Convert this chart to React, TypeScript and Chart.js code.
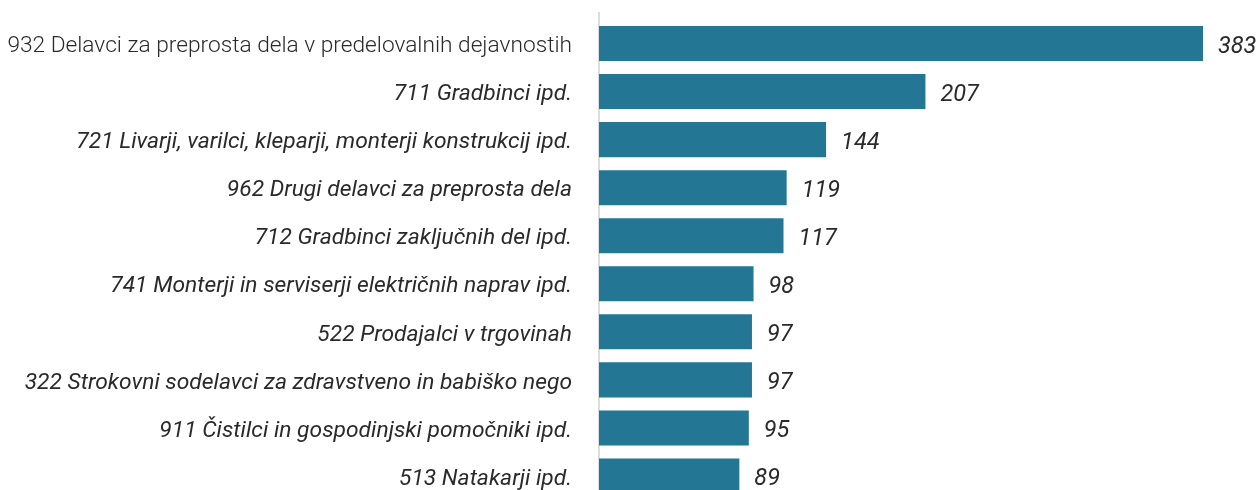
import React, { useEffect, useRef } from "react";
import { Chart, registerables } from "chart.js";

Chart.register(...registerables);

const categories: string[] = [
  "932 Delavci za preprosta dela v predelovalnih dejavnostih",
  "711 Gradbinci ipd.",
  "721 Livarji, varilci, kleparji, monterji konstrukcij ipd.",
  "962 Drugi delavci za preprosta dela",
  "712 Gradbinci zaključnih del ipd.",
  "741 Monterji in serviserji električnih naprav ipd.",
  "522 Prodajalci v trgovinah",
  "322 Strokovni sodelavci za zdravstveno in babiško nego",
  "911 Čistilci in gospodinjski pomočniki ipd.",
  "513 Natakarji ipd.",
];

const values: number[] = [383, 207, 144, 119, 117, 98, 97, 97, 95, 89];

const BAR_COLOR = "#247794";
const TEXT_COLOR = "#2a2a2a";
const FONT_FAMILY = "Roboto, 'Noto Sans', sans-serif";

const axisLinePlugin = {
  id: "axisLine",
  beforeDatasetsDraw(chart: any) {
    const { ctx, chartArea, scales } = chart;
    const x = scales.x.getPixelForValue(0);
    ctx.save();
    ctx.strokeStyle = "#d2d2d2";
    ctx.lineWidth = 1.5;
    ctx.beginPath();
    ctx.moveTo(x, chartArea.top - 7.5);
    ctx.lineTo(x, chart.height);
    ctx.stroke();
    ctx.restore();
  },
};

const valueLabelPlugin = {
  id: "valueLabels",
  afterDatasetsDraw(chart: any) {
    const { ctx } = chart;
    const meta = chart.getDatasetMeta(0);
    ctx.save();
    ctx.font = `italic 400 23.5px ${FONT_FAMILY}`;
    ctx.fillStyle = TEXT_COLOR;
    ctx.textAlign = "left";
    ctx.textBaseline = "middle";
    meta.data.forEach((bar: any, i: number) => {
      ctx.fillText(String(values[i]), bar.x + 15, bar.y + 3.5);
    });
    ctx.restore();
  },
};

export default function App() {
  const canvasRef = useRef<HTMLCanvasElement | null>(null);

  useEffect(() => {
    const canvas = canvasRef.current;
    if (!canvas) return;
    const chart = new Chart(canvas, {
      type: "bar",
      data: {
        labels: categories,
        datasets: [
          {
            data: values,
            backgroundColor: BAR_COLOR,
            borderWidth: 0,
            barPercentage: 0.73,
            categoryPercentage: 1,
          },
        ],
      },
      options: {
        indexAxis: "y",
        animation: false,
        responsive: false,
        maintainAspectRatio: false,
        layout: { padding: { top: 19.5, right: 57, left: 0, bottom: 0 } },
        plugins: {
          legend: { display: false },
          tooltip: { enabled: false },
          title: { display: false },
        },
        scales: {
          x: {
            display: false,
            min: 0,
            max: 383,
          },
          y: {
            afterFit: (scale: any) => {
              scale.width = 599;
              scale.paddingTop = 0;
              scale.paddingBottom = 0;
            },
            grid: { display: false, drawTicks: false },
            border: { display: false },
            ticks: {
              padding: 27,
              labelOffset: 3,
              color: TEXT_COLOR,
              autoSkip: false,
              font: (ctx: any) =>
                ctx.index === 0
                  ? { family: FONT_FAMILY, size: 22.7, style: "normal", weight: "300" }
                  : { family: FONT_FAMILY, size: 22.8, style: "italic", weight: "400" },
            },
          },
        },
      },
      plugins: [axisLinePlugin, valueLabelPlugin],
    });
    return () => chart.destroy();
  }, []);

  return (
    <div style={{ position: "fixed", left: 0, top: 0, width: 1260, height: 500, background: "#fff" }}>
      <canvas ref={canvasRef} width={1260} height={500} style={{ width: 1260, height: 500 }} />
    </div>
  );
}
